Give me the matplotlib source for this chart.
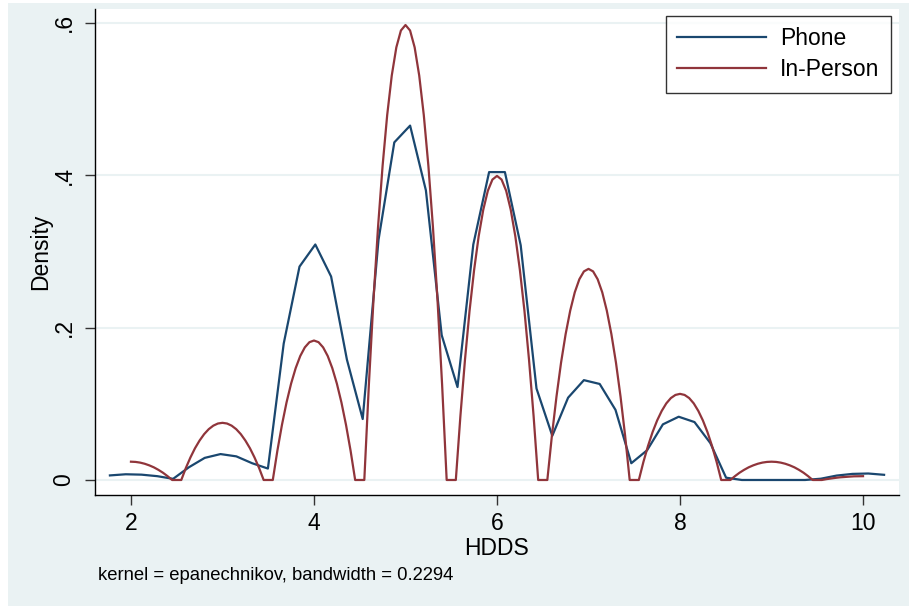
import numpy as np
import matplotlib
matplotlib.use("Agg")
import matplotlib.pyplot as plt
from matplotlib.patches import Rectangle

plt.rcParams['font.family'] = ['Liberation Sans', 'DejaVu Sans']

# Phone: 50 evaluation points (Stata kdensity default)
phone_x = np.linspace(1.77, 10.23, 50)
phone_y = [0.006, 0.0075, 0.007, 0.005, 0.0015, 0.0167, 0.029, 0.034, 0.031, 0.022,
           0.015, 0.179, 0.280, 0.309, 0.267, 0.158, 0.080, 0.315, 0.443, 0.465,
           0.380, 0.190, 0.122, 0.309, 0.404, 0.404, 0.308, 0.120, 0.058, 0.108,
           0.131, 0.126, 0.092, 0.022, 0.039, 0.073, 0.083, 0.076, 0.0485, 0.003,
           0.0, 0.0, 0.0, 0.0, 0.0, 0.0017, 0.0058, 0.008, 0.0085, 0.0068]

# In-Person: smooth curve, read every 0.05 from 2 to 10
inperson_x = np.round(np.arange(2.0, 10.001, 0.05), 2)
inperson_y = [
    0.024, 0.0237, 0.0228, 0.0213, 0.0192, 0.0166, 0.0133, 0.0095, 0.005, 0.0,   # 2.00-2.45
    0.0, 0.0, 0.0158, 0.0296, 0.0417, 0.0518, 0.0602, 0.0667, 0.0713, 0.0741,    # 2.50-2.95
    0.075, 0.0741, 0.0713, 0.0667, 0.0602, 0.0518, 0.0417, 0.0296, 0.0158, 0.0,  # 3.00-3.45
    0.0, 0.0, 0.0384, 0.0723, 0.1017, 0.1265, 0.1468, 0.1627, 0.1740, 0.1808,    # 3.50-3.95
    0.183, 0.1808, 0.1740, 0.1627, 0.1468, 0.1265, 0.1017, 0.0723, 0.0384, 0.0,  # 4.00-4.45
    0.0, 0.0, 0.1254, 0.2358, 0.3319, 0.4125, 0.4788, 0.5307, 0.5677, 0.5898,    # 4.50-4.95
    0.597, 0.5898, 0.5677, 0.5307, 0.4788, 0.4125, 0.3319, 0.2358, 0.1254, 0.0,  # 5.00-5.45
    0.0, 0.0, 0.0838, 0.1576, 0.2219, 0.2757, 0.3200, 0.3547, 0.3795, 0.3942,    # 5.50-5.95
    0.399, 0.3942, 0.3795, 0.3547, 0.3200, 0.2757, 0.2219, 0.1576, 0.0838, 0.0,  # 6.00-6.45
    0.0, 0.0, 0.0582, 0.1094, 0.1540, 0.1914, 0.2222, 0.2463, 0.2634, 0.2737,    # 6.50-6.95
    0.277, 0.2737, 0.2634, 0.2463, 0.2222, 0.1914, 0.1540, 0.1094, 0.0582, 0.0,  # 7.00-7.45
    0.0, 0.0, 0.0237, 0.0446, 0.0628, 0.0781, 0.0906, 0.1005, 0.1075, 0.1116,    # 7.50-7.95
    0.113, 0.1116, 0.1075, 0.1005, 0.0906, 0.0781, 0.0628, 0.0446, 0.0237, 0.0,  # 8.00-8.45
    0.0, 0.0, 0.005, 0.0095, 0.0133, 0.0166, 0.0192, 0.0213, 0.0228, 0.0237,     # 8.50-8.95
    0.024, 0.0237, 0.0228, 0.0213, 0.0192, 0.0166, 0.0133, 0.0095, 0.005, 0.0,   # 9.00-9.45
    0.0, 0.0, 0.0011, 0.002, 0.0028, 0.0035, 0.004, 0.0044, 0.0048, 0.0049,      # 9.50-9.95
    0.005,                                                                         # 10.00
]

xticks = [2, 4, 6, 8, 10]
yticks = [0, 0.2, 0.4, 0.6]
ytick_labels = ['0', '.2', '.4', '.6']

bg = '#EAF2F3'
navy = '#1A476F'
maroon = '#90353B'

fig = plt.figure(figsize=(9.09, 6.06), dpi=100, facecolor='white')
fig.patches.append(Rectangle((8 / 909, 0), 1, 1 - 3 / 606, transform=fig.transFigure,
                             facecolor=bg, edgecolor='none', zorder=-10))
ax = fig.add_axes([95 / 909, 1 - 495 / 606, (899 - 95) / 909, (495 - 9) / 606])
ax.set_facecolor('white')

ax.plot(phone_x, phone_y, color=navy, lw=1.6, label='Phone')
ax.plot(inperson_x, inperson_y, color=maroon, lw=1.6, label='In-Person')

ax.set_xlim(1.607, 10.393)
ax.set_ylim(-0.0197, 0.618)

ax.set_xticks(xticks)
ax.set_yticks(yticks)
ax.set_yticklabels(ytick_labels, rotation=90, va='center')
ax.tick_params(axis='both', labelsize=16.5, length=7, width=1, color='#333333')
ax.tick_params(axis='y', pad=7)
ax.tick_params(axis='x', pad=5)
ax.grid(axis='y', color=bg, lw=1.5)
ax.set_axisbelow(True)

for s in ['top', 'right']:
    ax.spines[s].set_visible(False)
for s in ['left', 'bottom']:
    ax.spines[s].set_color('black')
    ax.spines[s].set_linewidth(1)

ax.set_xlabel('HDDS', fontsize=16.5, labelpad=2)
ax.set_ylabel('Density', fontsize=16.5, labelpad=0)

leg = ax.legend(loc='upper right', bbox_to_anchor=(891 / 909, 1 - 16 / 606),
                bbox_transform=fig.transFigure, fontsize=16.5, frameon=True,
                fancybox=False, edgecolor='black', handlelength=3.9,
                handletextpad=0.6, borderpad=0.5, labelspacing=0.35, borderaxespad=0)
leg.get_frame().set_linewidth(1)

fig.text(98 / 909, 1 - 576 / 606, 'kernel = epanechnikov, bandwidth = 0.2294',
         fontsize=13.3, va='center', ha='left')

fig.savefig('out.png', dpi=100, facecolor=fig.get_facecolor())
